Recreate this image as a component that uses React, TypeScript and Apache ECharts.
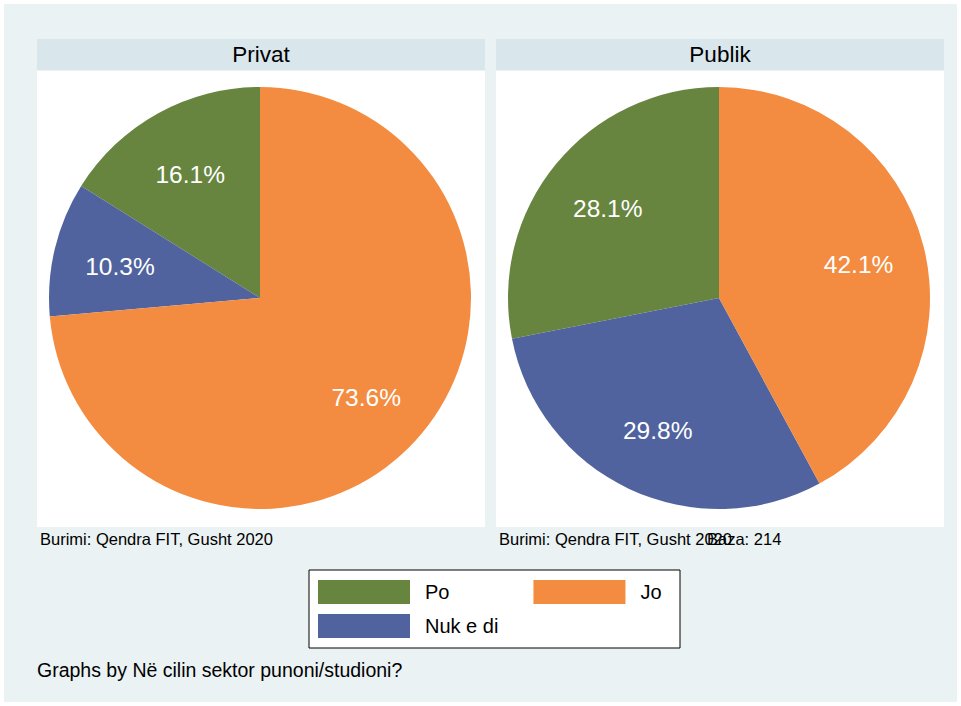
import React, { useEffect, useRef } from "react";
import * as echarts from "echarts";

const categories = ["Po", "Nuk e di", "Jo"];
const colors = ["#67853F", "#50639E", "#F38B40"];
const privatValues = [16.1, 10.3, 73.6];
const publikValues = [28.1, 29.8, 42.1];
const panelTitles = ["Privat", "Publik"];
const legendOrder = ["Po", "Jo", "Nuk e di"];
const sourceNote = "Burimi: Qendra FIT, Gusht 2020";
const baseNote = "Baza: 214";
const byNote = "Graphs by Në cilin sektor punoni/studioni?";

const FONT = "'Liberation Sans', Arial, Helvetica, sans-serif";

export default function App() {
  const ref = useRef<HTMLDivElement>(null);
  useEffect(() => {
    document.body.style.margin = "0";
    const chart = echarts.init(ref.current!, undefined, { renderer: "svg" });
    const panels = [
      { x: 37, values: privatValues, cx: 260 },
      { x: 496, values: publikValues, cx: 719 },
    ];
    const R = 211;
    const cy = 298;
    const series: any[] = [];
    panels.forEach((p, i) => {
      const data = categories.map((c, k) => ({
        name: c,
        value: p.values[k],
        itemStyle: { color: colors[k] },
      }));
      series.push({
        type: "pie",
        name: panelTitles[i],
        center: [p.cx, cy],
        radius: R,
        startAngle: 90,
        clockwise: false,
        label: { show: false },
        labelLine: { show: false },
        itemStyle: { borderWidth: 0 },
        emphasis: { disabled: true },
        data,
        z: 3,
      });
    });
    panels.forEach((p, i) => {
      series.push({
        type: "pie",
        name: panelTitles[i] + " labels",
        center: [p.cx, cy],
        radius: [71, R],
        startAngle: 90,
        clockwise: false,
        silent: true,
        itemStyle: { color: "transparent", borderWidth: 0 },
        label: {
          show: true,
          position: "inside",
          color: "#ffffff",
          fontFamily: FONT,
          fontSize: 24.5,
          offset: [0, 2],
          formatter: (d: any) => `${Number(d.value).toFixed(1)}%`,
        },
        labelLine: { show: false },
        emphasis: { disabled: true },
        data: categories.map((c, k) => ({ name: c, value: p.values[k] })),
        z: 4,
      });
    });

    const legendItem = (n: string) => ({
      name: n,
      icon: "rect",
      itemStyle: { color: colors[categories.indexOf(n)] },
    });
    const legendCommon = {
      orient: "horizontal",
      left: 318,
      padding: 0,
      itemWidth: 92,
      itemHeight: 24,
      selectedMode: false,
      textStyle: { fontFamily: FONT, fontSize: 20, color: "#000", padding: [0, 0, 0, 10] },
    };

    const graphic: any[] = [
      { type: "rect", shape: { x: 4, y: 4, width: 953, height: 698 }, style: { fill: "#EAF2F3" }, z: -10 },
    ];
    panels.forEach((p, i) => {
      graphic.push(
        { type: "rect", shape: { x: p.x, y: 39, width: 448, height: 31 }, style: { fill: "#D9E6EB" }, z: -9 },
        { type: "rect", shape: { x: p.x, y: 71, width: 448, height: 456 }, style: { fill: "#FFFFFF" }, z: -9 },
        {
          type: "text",
          x: p.x + 224,
          y: 54,
          style: { text: panelTitles[i], fontFamily: FONT, fontSize: 22.5, fill: "#000", align: "center", verticalAlign: "middle" },
          z: 5,
        },
        {
          type: "text",
          x: p.x + 3,
          y: 539,
          style: { text: sourceNote, fontFamily: FONT, fontSize: 16.5, fill: "#000", align: "left", verticalAlign: "middle" },
          z: 5,
        }
      );
    });
    graphic.push(
      {
        type: "text",
        x: 707,
        y: 539,
        style: { text: baseNote, fontFamily: FONT, fontSize: 16.5, fill: "#000", align: "left", verticalAlign: "middle" },
        z: 5,
      },
      {
        type: "rect",
        shape: { x: 309, y: 570, width: 371, height: 78 },
        style: { fill: "#FFFFFF", stroke: "#000000", lineWidth: 1 },
        z: -8,
      },
      {
        type: "text",
        x: 37,
        y: 670,
        style: { text: byNote, fontFamily: FONT, fontSize: 19.5, fill: "#000", align: "left", verticalAlign: "middle" },
        z: 5,
      }
    );

    chart.setOption({
      animation: false,
      backgroundColor: "#FFFFFF",
      legend: [
        { ...legendCommon, top: 580, itemGap: 84, data: legendOrder.slice(0, 2).map(legendItem) },
        { ...legendCommon, top: 614, data: legendOrder.slice(2).map(legendItem) },
      ],
      graphic,
      series,
    });
    return () => chart.dispose();
  }, []);
  return <div ref={ref} style={{ width: 961, height: 706 }} />;
}
